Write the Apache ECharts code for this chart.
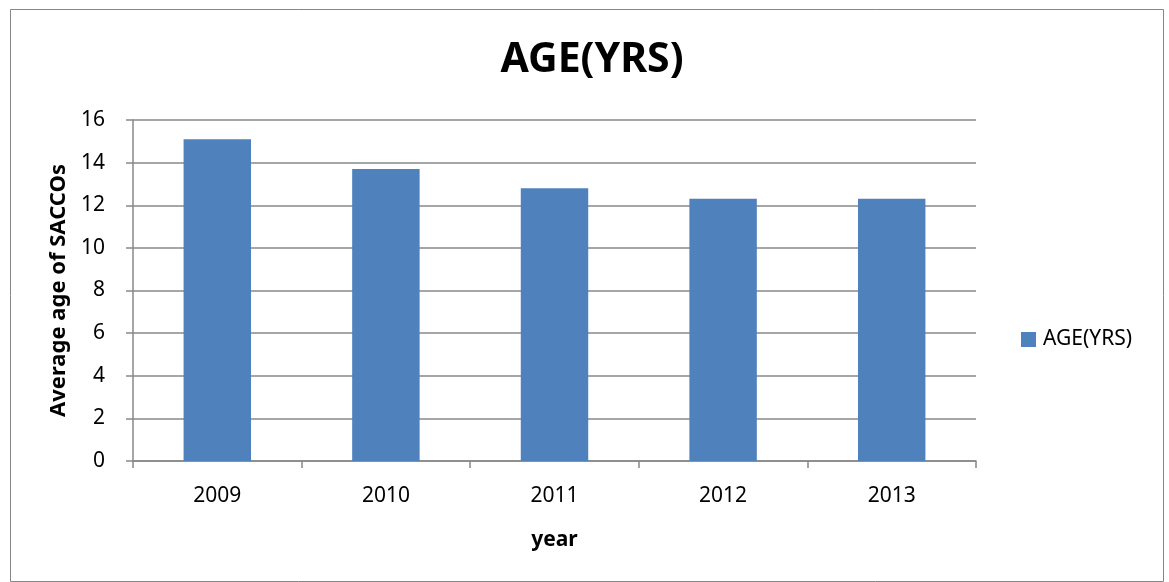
<!DOCTYPE html>
<html>
<head>
<meta charset="utf-8">
<script src="https://cdn.jsdelivr.net/npm/echarts@6/dist/echarts.min.js"></script>
<style>
html,body{margin:0;padding:0;background:#fff;}
#c{width:1169px;height:582px;}
</style>
</head>
<body>
<div id="c"></div>
<script>
const categories = ['2009', '2010', '2011', '2012', '2013'];
const ageValues = [15.1, 13.7, 12.8, 12.3, 12.3];
const seriesName = 'AGE(YRS)';
const yTicks = { min: 0, max: 16, interval: 2 };

const font = 'Noto Sans';
const chart = echarts.init(document.getElementById('c'), null, { renderer: 'canvas' });
chart.setOption({
  animation: false,
  backgroundColor: '#fff',
  graphic: [{
    type: 'rect', left: 8, top: 7,
    shape: { width: 1153, height: 572 },
    style: { fill: 'none', stroke: '#868686', lineWidth: 1 }
  }],
  title: {
    text: 'AGE(YRS)', left: 587, top: 35, textAlign: 'center',
    textStyle: { fontFamily: font, fontWeight: 'bold', fontSize: 41, color: '#000' }
  },
  legend: {
    data: [seriesName], left: 1016, top: 324, orient: 'vertical',
    icon: 'rect', itemWidth: 15, itemHeight: 15, itemGap: 6,
    textStyle: { fontFamily: font, fontSize: 21, color: '#000', padding: [0, 0, 0, 2] }
  },
  grid: { left: 133, right: 193, top: 120, bottom: 121, containLabel: false },
  xAxis: {
    type: 'category', data: categories,
    name: 'year', nameLocation: 'middle', nameGap: 69,
    nameTextStyle: { fontFamily: font, fontWeight: 'bold', fontSize: 21, color: '#000' },
    axisLine: { lineStyle: { color: '#888', width: 1.5 } },
    axisTick: { show: true, length: 7, lineStyle: { color: '#888', width: 1.5 } },
    axisLabel: { fontFamily: font, fontSize: 21, color: '#000', margin: 25 }
  },
  yAxis: {
    type: 'value', min: yTicks.min, max: yTicks.max, interval: yTicks.interval,
    name: 'Average age of SACCOs', nameLocation: 'middle', nameGap: 56, nameRotate: 90,
    nameTextStyle: { fontFamily: font, fontWeight: 'bold', fontSize: 22, color: '#000' },
    axisLine: { show: true, lineStyle: { color: '#888', width: 1.5 } },
    axisTick: { show: true, length: 7, lineStyle: { color: '#888', width: 1.5 } },
    axisLabel: { fontFamily: font, fontSize: 21, color: '#000', margin: 28 },
    splitLine: { show: true, lineStyle: { color: '#888', width: 1.5 } }
  },
  series: [{
    name: seriesName, type: 'bar', data: ageValues, barWidth: '40%',
    itemStyle: { color: '#4F81BD' }
  }]
});
</script>
</body>
</html>
